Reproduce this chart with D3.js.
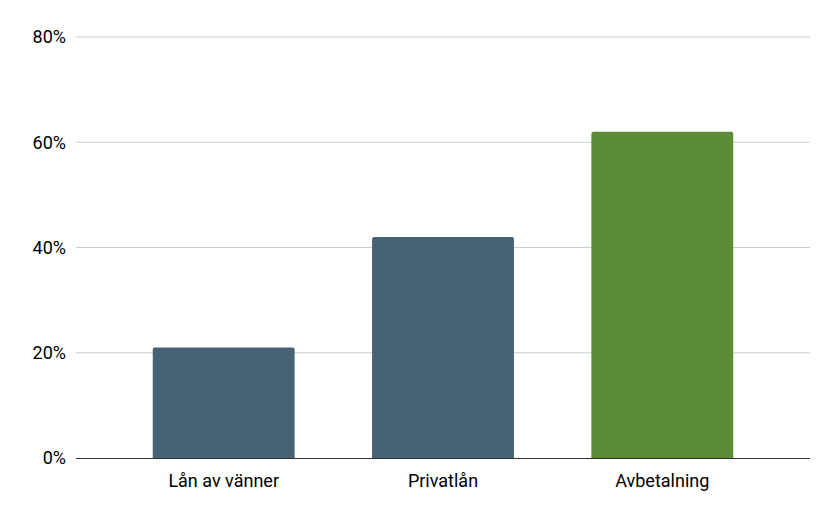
<!DOCTYPE html><html><head><meta charset="utf-8">
<script src="https://cdn.jsdelivr.net/npm/d3@7/dist/d3.min.js"></script>
<style>body{margin:0;background:#fff}svg{font-family:Roboto,Arial,sans-serif}</style></head><body>
<svg id="c" width="837" height="518"></svg>
<script>
const categories=["Lån av vänner","Privatlån","Avbetalning"];
const values=[0.21,0.42,0.62];
const colors=["#466274","#466274","#5d8c38"];
const ticks=[0,0.2,0.4,0.6,0.8];
const svg=d3.select("#c");
const x=d3.scaleBand().domain(categories).range([76,810]).paddingInner(0.353).paddingOuter(0.35);
const y=d3.scaleLinear().domain([0,0.8]).range([458,37]);
svg.append("g").selectAll("line").data(ticks.slice(1)).join("line")
 .attr("x1",76).attr("x2",810).attr("y1",d=>y(d)).attr("y2",d=>y(d)).attr("stroke","#cccccc");
svg.append("g").selectAll("text").data(ticks).join("text")
 .attr("x",66).attr("y",d=>y(d)).attr("dy","0.35em").attr("text-anchor","end")
 .attr("font-size",18).attr("fill","#000").text(d3.format(".0%"));
svg.append("g").selectAll("path").data(values).join("path")
 .attr("fill",(d,i)=>colors[i])
 .attr("d",(d,i)=>{const x0=x(categories[i]),w=x.bandwidth(),t=y(d),b=y(0),r=2;
   return `M${x0},${b}V${t+r}Q${x0},${t} ${x0+r},${t}H${x0+w-r}Q${x0+w},${t} ${x0+w},${t+r}V${b}Z`;});
svg.append("line").attr("x1",76).attr("x2",810).attr("y1",458.5).attr("y2",458.5).attr("stroke","#333");
svg.append("g").selectAll("text").data(categories).join("text")
 .attr("x",d=>x(d)+x.bandwidth()/2).attr("y",487).attr("text-anchor","middle")
 .attr("font-size",18).attr("fill","#000").text(d=>d);
</script></body></html>
